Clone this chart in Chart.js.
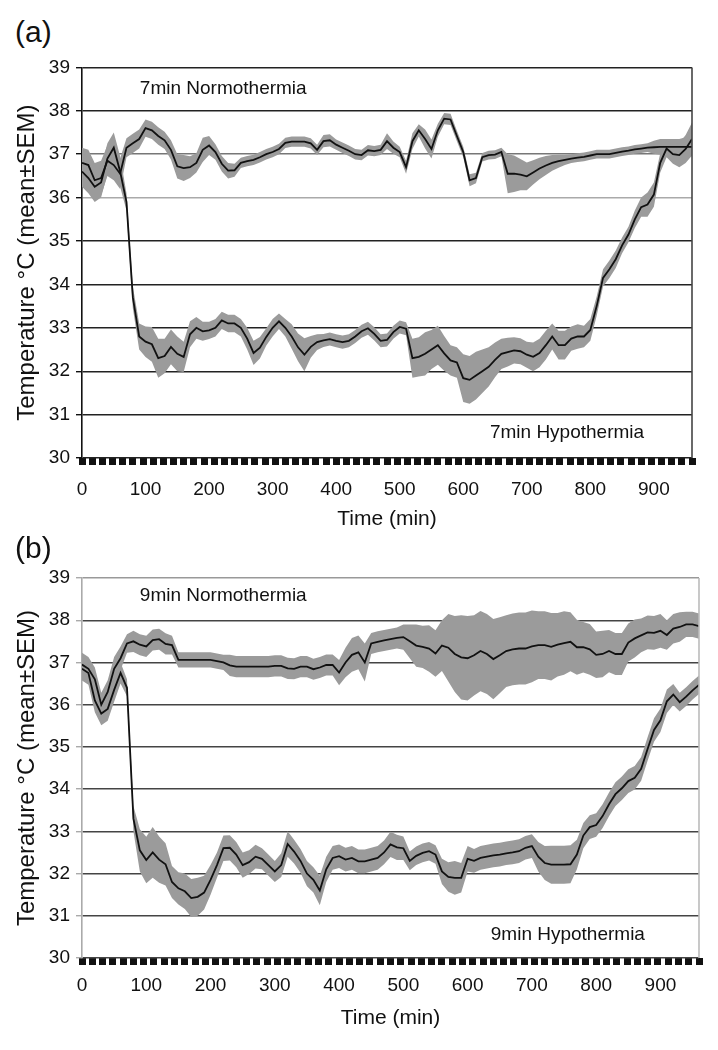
<!DOCTYPE html>
<html>
<head>
<meta charset="utf-8">
<script src="https://cdn.jsdelivr.net/npm/chart.js@4"></script>
<style>
  body { margin: 0; background: #fff; width: 718px; height: 1050px; position: relative; overflow: hidden;
         font-family: "Liberation Sans", Arial, sans-serif; }
  .panel-label { position: absolute; left: 15px; font-size: 30px; line-height: 34px; color: #111; }
  .box { position: absolute; left: 0; width: 718px; }
</style>
</head>
<body>
<div class="panel-label" style="top:15px">(a)</div>
<div class="box" style="top:50px;height:495px"><canvas id="chartA"></canvas></div>
<div class="panel-label" style="top:531px">(b)</div>
<div class="box" style="top:560px;height:490px"><canvas id="chartB"></canvas></div>
<script>
// time in minutes, one value every 10 min
const minutes = [
  0, 10, 20, 30, 40, 50, 60, 70, 80, 90,
  100, 110, 120, 130, 140, 150, 160, 170, 180, 190,
  200, 210, 220, 230, 240, 250, 260, 270, 280, 290,
  300, 310, 320, 330, 340, 350, 360, 370, 380, 390,
  400, 410, 420, 430, 440, 450, 460, 470, 480, 490,
  500, 510, 520, 530, 540, 550, 560, 570, 580, 590,
  600, 610, 620, 630, 640, 650, 660, 670, 680, 690,
  700, 710, 720, 730, 740, 750, 760, 770, 780, 790,
  800, 810, 820, 830, 840, 850, 860, 870, 880, 890,
  900, 910, 920, 930, 940, 950, 960
];
const xTickLabels = [0, 100, 200, 300, 400, 500, 600, 700, 800, 900];
const yTickLabels = [30, 31, 32, 33, 34, 35, 36, 37, 38, 39];

// (a) 7 min arrest
const normoA = [
  36.8, 36.75, 36.4, 36.45, 36.85, 36.75, 36.55, 37.15, 37.25, 37.35,
  37.6, 37.55, 37.42, 37.32, 37.1, 36.72, 36.68, 36.7, 36.8, 37.1,
  37.2, 37.05, 36.78, 36.62, 36.63, 36.8, 36.84, 36.87, 36.93, 37.0,
  37.05, 37.12, 37.26, 37.29, 37.29, 37.29, 37.25, 37.1, 37.3, 37.32,
  37.22, 37.15, 37.08, 37.0, 36.98, 37.09, 37.07, 37.1, 37.3, 37.15,
  37.05, 36.7, 37.3, 37.55, 37.35, 37.12, 37.55, 37.82, 37.8, 37.42,
  37.05, 36.4, 36.45, 36.93, 36.98, 36.99, 37.05, 36.55, 36.55, 36.53,
  36.49, 36.58, 36.67, 36.74, 36.8, 36.84, 36.87, 36.9, 36.92, 36.94,
  36.97, 37.0, 37.0, 37.0, 37.03, 37.06, 37.08, 37.11, 37.13, 37.15,
  37.16, 37.17, 37.17, 37.17, 37.17, 37.17, 37.17
];
const normoSemA = [
  0.35, 0.35, 0.4, 0.4, 0.35, 0.35, 0.35, 0.22, 0.22, 0.22,
  0.2, 0.2, 0.2, 0.2, 0.22, 0.28, 0.3, 0.25, 0.22, 0.28,
  0.22, 0.18, 0.18, 0.18, 0.15, 0.12, 0.12, 0.12, 0.12, 0.12,
  0.12, 0.12, 0.12, 0.12, 0.12, 0.12, 0.12, 0.12, 0.14, 0.14,
  0.12, 0.12, 0.12, 0.12, 0.12, 0.12, 0.12, 0.12, 0.18, 0.14,
  0.12, 0.15, 0.18, 0.14, 0.22, 0.22, 0.15, 0.13, 0.13, 0.12,
  0.12, 0.14, 0.12, 0.1, 0.1, 0.1, 0.1, 0.45, 0.42, 0.36,
  0.32, 0.28, 0.25, 0.22, 0.18, 0.15, 0.12, 0.1, 0.1, 0.1,
  0.1, 0.1, 0.1, 0.1, 0.1, 0.1, 0.1, 0.1, 0.1, 0.1,
  0.15, 0.18, 0.18, 0.18, 0.18, 0.22, 0.22
];
const hypoA = [
  36.6, 36.45, 36.25, 36.35, 36.9, 37.15, 36.6, 35.9, 33.7, 32.8,
  32.68, 32.62, 32.3, 32.35, 32.56, 32.4, 32.33, 32.85, 33.0, 32.92,
  32.94, 33.0, 33.17, 33.1, 33.1, 33.0, 32.75, 32.42, 32.54, 32.79,
  33.0, 33.15, 33.0, 32.8, 32.55, 32.38, 32.56, 32.67, 32.71, 32.74,
  32.7, 32.67, 32.7, 32.8, 32.92, 32.99, 32.86, 32.7, 32.72, 32.9,
  33.02, 32.98, 32.3, 32.33, 32.4, 32.5, 32.6, 32.41, 32.25, 32.2,
  31.84, 31.8, 31.9, 32.0, 32.1, 32.26, 32.4, 32.44, 32.48, 32.46,
  32.38, 32.33, 32.42, 32.6, 32.8, 32.6, 32.6, 32.75, 32.8, 32.8,
  32.95, 33.5, 34.15, 34.35, 34.58, 34.9, 35.15, 35.5, 35.78, 35.84,
  36.07, 36.8, 37.13, 37.0, 36.98, 37.12, 37.35
];
const hypoSemA = [
  0.35, 0.35, 0.35, 0.35, 0.35, 0.35, 0.35, 0.2, 0.25, 0.3,
  0.35, 0.4, 0.45, 0.4, 0.4, 0.4, 0.35, 0.3, 0.25, 0.22,
  0.2, 0.2, 0.2, 0.2, 0.2, 0.2, 0.25, 0.28, 0.25, 0.2,
  0.2, 0.18, 0.2, 0.28, 0.32, 0.38, 0.25, 0.18, 0.15, 0.15,
  0.15, 0.15, 0.15, 0.15, 0.15, 0.15, 0.15, 0.15, 0.15, 0.15,
  0.15, 0.15, 0.45, 0.45, 0.5, 0.45, 0.45, 0.4, 0.35, 0.35,
  0.55, 0.55, 0.55, 0.5, 0.45, 0.4, 0.35, 0.33, 0.3, 0.3,
  0.3, 0.33, 0.33, 0.33, 0.3, 0.33, 0.33, 0.28, 0.28, 0.25,
  0.25, 0.22, 0.2, 0.2, 0.2, 0.18, 0.18, 0.2, 0.22, 0.28,
  0.28, 0.22, 0.2, 0.22, 0.28, 0.32, 0.38
];

// (b) 9 min arrest
const normoB = [
  36.95, 36.85, 36.6, 36.0, 36.3, 36.85, 37.1, 37.45, 37.5, 37.42,
  37.38, 37.53, 37.55, 37.44, 37.41, 37.06, 37.06, 37.06, 37.06, 37.06,
  37.06, 37.03, 37.0, 36.93, 36.9, 36.9, 36.9, 36.9, 36.9, 36.9,
  36.92, 36.92, 36.86, 36.85, 36.9, 36.9, 36.84, 36.88, 36.94, 36.94,
  36.76, 37.0, 37.18, 37.24, 37.0, 37.45, 37.49, 37.52, 37.55, 37.58,
  37.6, 37.5, 37.4, 37.37, 37.33, 37.21, 37.4, 37.35, 37.2, 37.12,
  37.1, 37.17, 37.27, 37.2, 37.08, 37.17, 37.27, 37.31, 37.33, 37.33,
  37.38, 37.41, 37.41, 37.37, 37.42, 37.46, 37.49, 37.36, 37.36, 37.31,
  37.18, 37.2, 37.27, 37.2, 37.2, 37.47, 37.57, 37.64, 37.71, 37.7,
  37.75, 37.65, 37.8, 37.84, 37.9, 37.9, 37.86
];
const normoSemB = [
  0.28, 0.28, 0.28, 0.28, 0.28, 0.28, 0.28, 0.22, 0.25, 0.25,
  0.25, 0.25, 0.25, 0.25, 0.22, 0.18, 0.18, 0.18, 0.18, 0.18,
  0.18, 0.18, 0.18, 0.25, 0.25, 0.25, 0.25, 0.25, 0.25, 0.25,
  0.25, 0.25, 0.25, 0.25, 0.25, 0.25, 0.25, 0.25, 0.25, 0.25,
  0.3, 0.35, 0.4, 0.4, 0.45, 0.25, 0.25, 0.25, 0.25, 0.25,
  0.3, 0.4, 0.5, 0.5, 0.55, 0.55, 0.6, 0.8, 0.9, 1.0,
  1.0, 0.95, 0.95, 0.95, 0.95, 0.9, 0.85, 0.85, 0.85, 0.85,
  0.85, 0.8, 0.8, 0.8, 0.75, 0.75, 0.7, 0.65, 0.6, 0.6,
  0.55, 0.55, 0.5, 0.5, 0.5, 0.45, 0.45, 0.4, 0.4, 0.4,
  0.4, 0.35, 0.35, 0.35, 0.3, 0.3, 0.3
];
const hypoB = [
  36.85, 36.75, 36.1, 35.79, 35.9, 36.35, 36.75, 36.4, 33.3, 32.55,
  32.32, 32.5, 32.33, 32.22, 31.8, 31.65, 31.58, 31.42, 31.45, 31.55,
  31.85, 32.2, 32.6, 32.61, 32.45, 32.2, 32.27, 32.4, 32.35, 32.2,
  32.05, 32.2, 32.7, 32.52, 32.3, 32.0, 31.85, 31.6, 32.1, 32.37,
  32.41, 32.33, 32.37, 32.29, 32.29, 32.33, 32.37, 32.5, 32.69, 32.62,
  32.6, 32.3, 32.42, 32.49, 32.53, 32.45, 32.05, 31.92, 31.9, 31.9,
  32.35, 32.3, 32.37, 32.4, 32.43, 32.45, 32.48, 32.5, 32.53, 32.61,
  32.65, 32.4, 32.25, 32.21, 32.21, 32.21, 32.22, 32.45, 32.9, 33.1,
  33.15, 33.36, 33.64, 33.88, 34.02, 34.19, 34.27, 34.48, 34.95, 35.4,
  35.63, 36.08, 36.24, 36.06, 36.19, 36.34, 36.47
];
const hypoSemB = [
  0.28, 0.28, 0.28, 0.28, 0.28, 0.28, 0.25, 0.2, 0.3, 0.5,
  0.55, 0.6, 0.55, 0.5, 0.38, 0.38, 0.42, 0.45, 0.45, 0.4,
  0.35, 0.3, 0.3, 0.3, 0.3, 0.3, 0.28, 0.28, 0.25, 0.25,
  0.25, 0.28, 0.3, 0.28, 0.28, 0.3, 0.3, 0.35, 0.3, 0.28,
  0.28, 0.28, 0.28, 0.28, 0.28, 0.28, 0.28, 0.28, 0.3, 0.3,
  0.28, 0.22, 0.22, 0.22, 0.22, 0.22, 0.3, 0.35, 0.4, 0.35,
  0.3, 0.28, 0.28, 0.28, 0.28, 0.28, 0.28, 0.28, 0.28, 0.28,
  0.28, 0.35, 0.4, 0.45, 0.45, 0.45, 0.45, 0.35, 0.3, 0.28,
  0.28, 0.28, 0.28, 0.28, 0.28, 0.28, 0.28, 0.28, 0.28, 0.28,
  0.28, 0.28, 0.25, 0.22, 0.22, 0.22, 0.22
];

const FONT = '"Liberation Sans", Arial, sans-serif';
const SEM_GRAY = '#9b9b9b';

const points = (vals, sem, sign) =>
  vals.map((v, i) => ({ x: minutes[i], y: v + sign * (sem ? sem[i] : 0) }));

// SEM band: lower edge + upper edge filled down to it; drawn under the means
function seriesDatasets(mean, sem) {
  return [
    { data: points(mean, sem, -1), borderWidth: 0, fill: false, order: 2 },
    { data: points(mean, sem, 1), borderWidth: 0, fill: '-1', backgroundColor: SEM_GRAY, order: 2 }
  ];
}

// text labels placed in data coordinates
const notesPlugin = {
  id: 'notes',
  afterDatasetsDraw(chart, args, opts) {
    const { ctx, scales: { x, y } } = chart;
    ctx.save();
    ctx.font = '19px ' + FONT;
    ctx.fillStyle = '#111';
    ctx.textAlign = 'left';
    ctx.textBaseline = 'middle';
    opts.items.forEach(n => ctx.fillText(n.text, x.getPixelForValue(n.x), y.getPixelForValue(n.y)));
    ctx.restore();
  }
};

// right edge of the plot frame
const framePlugin = {
  id: 'frame',
  afterDatasetsDraw(chart, args, opts) {
    const { ctx, chartArea: a } = chart;
    ctx.save();
    ctx.strokeStyle = opts.color;
    ctx.lineWidth = opts.width;
    ctx.beginPath();
    ctx.moveTo(a.right, a.top);
    ctx.lineTo(a.right, a.bottom);
    ctx.stroke();
    ctx.restore();
  }
};

function makeChart(id, p) {
  return new Chart(document.getElementById(id), {
    type: 'line',
    data: {
      datasets: [
        ...seriesDatasets(p.hypo, p.hypoSem),
        ...seriesDatasets(p.normo, p.normoSem),
        { data: points(p.hypo, null, 0), borderColor: '#111', borderWidth: 1.8, fill: false, order: 0 },
        { data: points(p.normo, null, 0), borderColor: '#111', borderWidth: 1.8, fill: false, order: 0 }
      ]
    },
    options: {
      responsive: true,
      maintainAspectRatio: false,
      animation: false,
      events: [],
      layout: { padding: { top: p.padTop, right: p.padRight, bottom: 0, left: 0 } },
      elements: { point: { radius: 0 }, line: { tension: 0 } },
      scales: {
        x: {
          type: 'linear', position: 'bottom', min: 0, max: 960, weight: 1,
          afterBuildTicks: s => { s.ticks = xTickLabels.map(v => ({ value: v })); },
          afterFit: s => { s.height = p.xAxisHeight; },
          grid: { display: false, drawTicks: false },
          border: { display: false },
          ticks: { autoSkip: false, maxRotation: 0, padding: p.xLabelPad, color: '#111', font: { family: FONT, size: 19 } },
          title: { display: true, text: 'Time (min)', color: '#111', font: { family: FONT, size: 21 },
                   padding: { top: 0, bottom: p.xTitlePad } }
        },
        xMarks: {
          type: 'linear', position: 'bottom', min: 0, max: 960, weight: 0,
          afterBuildTicks: s => { const t = []; for (let v = 0; v <= 960; v += 16) t.push({ value: v }); s.ticks = t; },
          afterFit: s => { s.height = 0; },
          grid: { display: true, drawOnChartArea: false, drawTicks: true, tickLength: 7, tickWidth: 7, tickColor: '#111' },
          border: { display: false },
          ticks: { display: false }
        },
        y: {
          min: 30, max: 39,
          afterBuildTicks: s => { s.ticks = yTickLabels.map(v => ({ value: v })); },
          afterFit: s => { s.width = 82; },
          grid: { color: p.gridColor, lineWidth: 1.4, drawTicks: true, tickLength: 6, tickColor: p.axisColor },
          border: { display: true, color: p.axisColor, width: 1.6 },
          ticks: { padding: 6, color: '#111', font: { family: FONT, size: 19 } },
          title: { display: true, text: 'Temperature °C (mean±SEM)', color: '#111', font: { family: FONT, size: 24 },
                   padding: { top: 13, bottom: 0 } }
        }
      },
      plugins: {
        legend: { display: false },
        tooltip: { enabled: false },
        notes: { items: p.notes },
        frame: { color: p.frameColor, width: 1.6 }
      }
    },
    plugins: [notesPlugin, framePlugin]
  });
}

makeChart('chartA', {
  normo: normoA, normoSem: normoSemA, hypo: hypoA, hypoSem: hypoSemA,
  padTop: 15, padRight: 26, xAxisHeight: 87, xLabelPad: 20, xTitlePad: 13,
  gridColor: c => c.tick.value === 36 ? '#aaa' : (c.tick.value === 37 ? '#777' : '#222'),
  axisColor: '#111', frameColor: '#444',
  notes: [{ text: '7min Normothermia', x: 91, y: 38.5 }, { text: '7min Hypothermia', x: 642, y: 30.58 }]
});

makeChart('chartB', {
  normo: normoB, normoSem: normoSemB, hypo: hypoB, hypoSem: hypoSemB,
  padTop: 18, padRight: 19, xAxisHeight: 92, xLabelPad: 16, xTitlePad: 19,
  gridColor: c => c.tick.value === 39 ? '#999' : '#444',
  axisColor: '#aaa', frameColor: '#bbb',
  notes: [{ text: '9min Normothermia', x: 90, y: 38.57 }, { text: '9min Hypothermia', x: 636, y: 30.54 }]
});
</script>
</body>
</html>
